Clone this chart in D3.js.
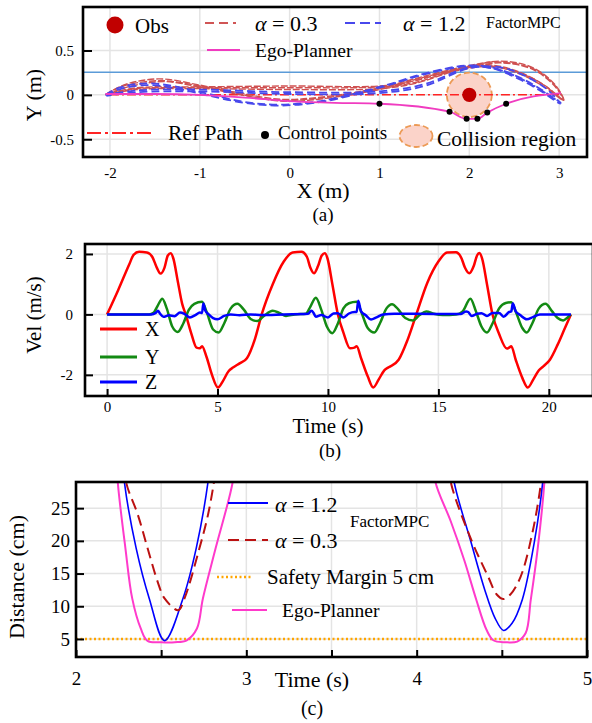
<!DOCTYPE html>
<html lang="en">
<head>
<meta charset="UTF-8">
<title>factormpc figure</title>
<script src="https://cdn.jsdelivr.net/npm/d3@7/dist/d3.min.js"></script>
<style>
  body { margin: 0; background: #fff; }
  svg { display: block; font-family: "Liberation Serif", "Times New Roman", serif; }
  .gridline { stroke: #e4e4e4; stroke-width: 1.5; }
  .axis path { display: none; }
  .axis line { stroke: #000; stroke-width: 2; }
  .axis text { font-family: "Liberation Serif", serif; fill: #000; }
  .frame { fill: none; stroke: #000; stroke-width: 2.6; }
  .lbl { fill: #000; }
</style>
</head>
<body>
<div id="viz"></div>
<script>
// ---------- (a) trajectories, metres ----------
var xTicksA = [-2, -1, 0, 1, 2, 3];
var yTicksA = [-0.5, 0, 0.5];
var obstacle = [2, 0];
var obsRadius = 0.08;
var collisionRadius = 0.25;
var blueRefY = 0.255;
var refPath = [[-2, 0], [3, 0]];
var ctrlPts = [[1, -0.1], [1.78, -0.19], [1.97, -0.27], [2.09, -0.27], [2.2, -0.2], [2.41, -0.1]];
var egoPath = [[-2.05, 0.01], [-1.5, 0.01], [-1.0, 0.0], [-0.5, -0.03], [0.0, -0.07], [0.5, -0.09], [1.0, -0.1],
  [1.78, -0.19], [1.97, -0.27], [2.09, -0.27], [2.2, -0.2], [2.41, -0.1], [3.02, 0.02]];
var redLaps = [
  [[-2.05, 0.0], [-1.85, 0.11], [-1.46, 0.18], [-1.0, 0.11], [-0.6, 0.02], [-0.1, -0.07], [0.4, -0.04], [1.0, 0.07],
   [1.5, 0.2], [2.0, 0.32], [2.35, 0.38], [2.7, 0.31], [2.95, 0.12], [3.05, -0.06], [2.85, 0.08], [2.55, 0.24],
   [2.2, 0.33], [1.85, 0.28], [1.4, 0.14], [1.0, 0.09], [0.0, 0.08], [-1.0, 0.08], [-1.7, 0.07], [-2.05, 0.0]],
  [[-2.04, 0.01], [-1.85, 0.1], [-1.45, 0.16], [-1.0, 0.1], [-0.6, 0.01], [-0.1, -0.06], [0.4, -0.03], [1.0, 0.06],
   [1.5, 0.19], [2.0, 0.31], [2.35, 0.36], [2.7, 0.29], [2.95, 0.1], [3.04, -0.05], [2.85, 0.1], [2.55, 0.26],
   [2.2, 0.34], [1.85, 0.29], [1.4, 0.16], [1.0, 0.1], [0.0, 0.1], [-1.0, 0.09], [-1.7, 0.08], [-2.04, 0.01]],
  [[-2.05, 0.0], [-1.8, 0.09], [-1.4, 0.15], [-1.0, 0.09], [-0.6, 0.03], [-0.1, -0.05], [0.4, -0.02], [1.0, 0.08],
   [1.5, 0.21], [2.0, 0.33], [2.3, 0.37], [2.7, 0.3], [2.95, 0.11], [3.05, -0.06], [2.8, 0.13], [2.5, 0.27],
   [2.2, 0.32], [1.85, 0.27], [1.4, 0.13], [1.0, 0.07], [0.0, 0.06], [-1.0, 0.07], [-1.7, 0.06], [-2.05, 0.0]]
];
var blueLaps = [
  [[-2.05, 0.0], [-1.9, 0.08], [-1.6, 0.13], [-1.3, 0.1], [-0.94, 0.02], [-0.5, -0.08], [-0.1, -0.11], [0.4, -0.06],
   [1.07, 0.11], [1.5, 0.24], [1.96, 0.33], [2.25, 0.31], [2.55, 0.2], [2.8, 0.06], [3.02, -0.09], [2.85, 0.02],
   [2.6, 0.17], [2.3, 0.29], [2.0, 0.31], [1.5, 0.12], [1.0, 0.04], [0.0, 0.03], [-1.0, 0.06], [-1.7, 0.05], [-2.05, 0.0]],
  [[-2.04, -0.01], [-1.9, 0.06], [-1.6, 0.11], [-1.3, 0.08], [-0.94, 0.0], [-0.5, -0.09], [-0.1, -0.12], [0.4, -0.07],
   [1.07, 0.1], [1.5, 0.23], [1.96, 0.32], [2.25, 0.3], [2.55, 0.18], [2.8, 0.04], [3.01, -0.1], [2.88, 0.05],
   [2.65, 0.2], [2.35, 0.31], [2.0, 0.3], [1.5, 0.1], [1.0, 0.02], [0.0, 0.01], [-1.0, 0.04], [-1.7, 0.03], [-2.04, -0.01]]
];

// ---------- (b) velocity, m/s ----------
var velTicksX = [0, 5, 10, 15, 20];
var velTicksY = [-2, 0, 2];
var velX = [[0, 0], [0.5, 0.8], [1.0, 1.65], [1.2, 1.97], [1.45, 2.07], [1.8, 2.05], [2.05, 1.9], [2.25, 1.55],
  [2.42, 1.35], [2.6, 1.55], [2.75, 1.95], [2.88, 2.02], [3.0, 1.85], [3.2, 1.1], [3.4, 0.35], [3.56, 0],
  [3.8, -0.6], [4.05, -1.1], [4.2, -1.12], [4.3, -1.05], [4.5, -1.4], [4.75, -2.0], [5.02, -2.42], [5.25, -2.2],
  [5.5, -1.88], [5.7, -1.76], [6.0, -1.62], [6.33, -1.45], [6.7, -0.8], [7.0, 0], [7.5, 1.0], [8.0, 1.75],
  [8.4, 2.05], [8.8, 2.07], [9.05, 1.9], [9.2, 1.55], [9.37, 1.36], [9.55, 1.6], [9.72, 1.95], [9.86, 2.02],
  [9.98, 1.85], [10.2, 1.0], [10.45, 0], [10.7, -0.6], [11.0, -1.12], [11.2, -1.1], [11.3, -1.05], [11.5, -1.45],
  [11.8, -2.05], [12.05, -2.42], [12.3, -2.15], [12.55, -1.85], [12.75, -1.75], [13.2, -1.5], [13.6, -0.85],
  [14.0, 0], [14.5, 1.05], [15.0, 1.75], [15.4, 2.05], [15.8, 2.06], [16.05, 1.85], [16.2, 1.55], [16.4, 1.36],
  [16.6, 1.6], [16.75, 1.95], [16.85, 2.03], [16.98, 1.85], [17.2, 1.0], [17.45, 0], [17.75, -0.65], [18.1, -1.13],
  [18.2, -1.1], [18.3, -1.05], [18.5, -1.5], [18.8, -2.1], [19.05, -2.42], [19.3, -2.15], [19.55, -1.85],
  [19.75, -1.72], [20.05, -1.5], [20.4, -1.0], [20.7, -0.5], [21.0, 0]];
var velY = [[0, 0], [1.9, 0], [2.1, 0.05], [2.3, 0.3], [2.5, 0.52], [2.7, 0.2], [2.95, -0.4], [3.2, -0.58],
  [3.45, -0.3], [3.7, 0.15], [3.95, 0.35], [4.3, 0.42], [4.5, 0.1], [4.8, -0.5], [5.05, -0.6], [5.3, -0.3],
  [5.6, 0.2], [5.9, 0.35], [6.2, 0.15], [6.5, -0.15], [6.8, -0.22], [7.1, -0.05], [7.5, 0.12], [7.8, 0.05],
  [8.1, -0.05], [8.5, 0], [9.0, 0.02], [9.2, 0.25], [9.45, 0.55], [9.7, 0.15], [9.95, -0.4], [10.2, -0.62],
  [10.45, -0.3], [10.7, 0.2], [10.95, 0.37], [11.3, 0.42], [11.5, 0.1], [11.8, -0.45], [12.1, -0.6], [12.35, -0.3],
  [12.65, 0.2], [12.9, 0.34], [13.2, 0.15], [13.5, -0.12], [13.85, -0.2], [14.15, -0.02], [14.45, 0.1],
  [14.8, 0.02], [15.2, -0.02], [15.8, 0], [16.1, 0.1], [16.45, 0.52], [16.7, 0.1], [16.95, -0.4], [17.2, -0.6],
  [17.45, -0.3], [17.75, 0.2], [18.05, 0.38], [18.3, 0.4], [18.5, 0.1], [18.8, -0.45], [19.0, -0.6],
  [19.25, -0.3], [19.55, 0.2], [19.85, 0.35], [20.15, 0.1], [20.4, -0.12], [20.65, -0.2], [20.85, -0.1], [21.0, 0]];
var velZ = [[0, 0], [2.0, 0], [2.2, 0.05], [2.3, 0.12], [2.4, 0.02], [2.55, -0.08], [2.8, -0.03], [3.05, -0.06],
  [3.3, 0.06], [3.5, 0.02], [3.75, -0.1], [4.0, -0.02], [4.2, 0.06], [4.3, 0.05], [4.36, 0.36], [4.45, 0.12],
  [4.6, 0.0], [4.8, -0.12], [5.0, -0.16], [5.3, -0.05], [5.6, 0.0], [6.0, -0.03], [6.5, 0], [7.0, -0.02], [8.0, 0],
  [9.1, 0.02], [9.25, 0.12], [9.35, 0.05], [9.45, -0.08], [9.7, -0.02], [10.0, -0.1], [10.25, 0.03], [10.45, 0.04],
  [10.7, -0.1], [10.95, 0.03], [11.2, 0.08], [11.3, 0.08], [11.37, 0.45], [11.5, 0.1], [11.7, -0.02],
  [11.95, -0.17], [12.2, -0.1], [12.5, 0.0], [13, 0.02], [14, 0.02], [16.0, 0.01], [16.25, 0.1], [16.35, 0.08],
  [16.5, -0.05], [16.75, 0.02], [16.95, 0.04], [17.2, -0.05], [17.45, 0.05], [17.75, 0.05], [17.95, -0.08],
  [18.2, 0.08], [18.3, 0.1], [18.37, 0.36], [18.5, 0.1], [18.7, -0.02], [19.0, -0.16], [19.3, -0.08], [19.6, 0.0],
  [21.0, 0.0]];

// ---------- (c) distance to obstacle, cm ----------
var distTicksX = [2, 2.5, 3, 3.5, 4, 4.5, 5];
var distLabelsX = [2, 3, 4, 5];
var distTicksY = [5, 10, 15, 20, 25];
var safetyMargin = 5;
var blueDist = [
  [[2.27, 34], [2.284, 29], [2.353, 18.9], [2.43, 11.2], [2.52, 4.75], [2.628, 11.2], [2.706, 18.9], [2.775, 29], [2.79, 33]],
  [[4.2, 34], [4.22, 29], [4.32, 19.7], [4.4, 12.5], [4.46, 8.2], [4.51, 6.3], [4.56, 7.4], [4.62, 11], [4.69, 19.7], [4.74, 29], [4.75, 33]]
];
var redDist = [
  [[2.28, 34], [2.294, 29], [2.363, 24], [2.42, 18.9], [2.48, 13.7], [2.52, 11.2], [2.6, 9.4], [2.637, 11.2], [2.725, 18.9], [2.775, 24], [2.81, 29], [2.83, 33]],
  [[4.18, 34], [4.2, 29], [4.32, 20.2], [4.42, 14.5], [4.47, 11.8], [4.51, 11.1], [4.55, 11.8], [4.61, 14.5], [4.68, 21.3], [4.73, 29], [4.74, 33]]
];
var pinkDist = [
  [[2.235, 34], [2.245, 29], [2.29, 18.9], [2.33, 11.2], [2.38, 6.6], [2.42, 4.7], [2.5, 4.5], [2.58, 4.5], [2.65, 4.8], [2.71, 6.6], [2.745, 11.2], [2.82, 18.9], [2.92, 29], [2.94, 34]],
  [[4.09, 34], [4.11, 29], [4.2, 23], [4.28, 17], [4.35, 11], [4.41, 6.4], [4.45, 4.8], [4.52, 4.5], [4.59, 4.6], [4.64, 5.9], [4.67, 11], [4.71, 18.7], [4.75, 29], [4.76, 34]]
];

var svg = d3.select('#viz').append('svg')
  .attr('width', 592)
  .attr('height', 723);

function grid(g, x, y, xs, ys) {
  g.selectAll(null).data(xs).enter().append('line')
    .attr('class', 'gridline')
    .attr('x1', d => x(d)).attr('x2', d => x(d))
    .attr('y1', y.range()[0]).attr('y2', y.range()[1]);
  g.selectAll(null).data(ys).enter().append('line')
    .attr('class', 'gridline')
    .attr('y1', d => y(d)).attr('y2', d => y(d))
    .attr('x1', x.range()[0]).attr('x2', x.range()[1]);
}

function frame(g, x, y) {
  g.append('rect').attr('class', 'frame')
    .attr('x', x.range()[0]).attr('y', y.range()[1])
    .attr('width', x.range()[1] - x.range()[0])
    .attr('height', y.range()[0] - y.range()[1]);
}

function alphaText(g, x, y, val, size) {
  var t = g.append('text').attr('class', 'lbl').attr('x', x).attr('y', y).style('font-size', size + 'px');
  t.append('tspan').style('font-style', 'italic').text('α');
  t.append('tspan').text(' = ' + val);
}

function text(g, x, y, s, size, anchor) {
  return g.append('text').attr('class', 'lbl').attr('x', x).attr('y', y)
    .attr('text-anchor', anchor || 'start').style('font-size', size + 'px').text(s);
}

// ================= (a) =================
var xa = d3.scaleLinear().domain([-2.3, 3.31]).range([83, 587]);
var ya = d3.scaleLinear().domain([-0.7, 0.99]).range([157, 7]);
var ga = svg.append('g');
ga.append('clipPath').attr('id', 'clipA').append('rect')
  .attr('x', 83).attr('y', 7).attr('width', 504).attr('height', 150);
grid(ga, xa, ya, xTicksA, yTicksA);

var pa = ga.append('g').attr('clip-path', 'url(#clipA)');
pa.append('line')
  .attr('x1', xa.range()[0]).attr('x2', xa.range()[1])
  .attr('y1', ya(blueRefY)).attr('y2', ya(blueRefY))
  .style('stroke', '#5b9bd8').style('stroke-width', 1.3);

pa.append('ellipse')
  .attr('cx', xa(obstacle[0])).attr('cy', ya(obstacle[1]))
  .attr('rx', xa(collisionRadius) - xa(0)).attr('ry', ya(0) - ya(collisionRadius))
  .style('fill', '#fbd3c9').style('stroke', '#ec9a55').style('stroke-width', 1.8)
  .style('stroke-dasharray', '6,3');

var lineA = d3.line().x(d => xa(d[0])).y(d => ya(d[1]));
var smoothA = d3.line().x(d => xa(d[0])).y(d => ya(d[1])).curve(d3.curveCatmullRom.alpha(0.5));

pa.append('path').datum(refPath).attr('d', lineA)
  .style('fill', 'none').style('stroke', '#ff2424').style('stroke-width', 1.5)
  .style('stroke-dasharray', '9,3,2,3');

pa.selectAll('.red').data(redLaps).enter().append('path').attr('class', 'red')
  .attr('d', smoothA)
  .style('fill', 'none').style('stroke', '#cf5050').style('stroke-width', 1.4)
  .style('stroke-dasharray', '7,2');

pa.selectAll('.blue').data(blueLaps).enter().append('path').attr('class', 'blue')
  .attr('d', smoothA)
  .style('fill', 'none').style('stroke', '#4848ec').style('stroke-width', 1.8)
  .style('stroke-dasharray', '8,4');

pa.append('path').datum(egoPath)
  .attr('d', d3.line().x(d => xa(d[0])).y(d => ya(d[1])).curve(d3.curveMonotoneX))
  .style('fill', 'none').style('stroke', '#f03cc0').style('stroke-width', 1.8);

pa.append('circle')
  .attr('cx', xa(obstacle[0])).attr('cy', ya(obstacle[1]))
  .attr('r', ya(0) - ya(obsRadius))
  .style('fill', '#c00000');

pa.selectAll('.cp').data(ctrlPts).enter().append('circle')
  .attr('cx', d => xa(d[0])).attr('cy', d => ya(d[1])).attr('r', 3)
  .style('fill', '#000');

// axes (a)
ga.append('g').attr('class', 'axis')
  .attr('transform', 'translate(0,' + ya.range()[0] + ')')
  .call(d3.axisBottom(xa).tickValues(xTicksA).tickSize(0).tickPadding(10).tickFormat(d => String(d)))
  .selectAll('text').style('font-size', '15px');
ga.append('g').attr('class', 'axis')
  .attr('transform', 'translate(' + xa.range()[0] + ',0)')
  .call(d3.axisLeft(ya).tickValues(yTicksA).tickSizeInner(-9).tickPadding(9).tickFormat(d => String(d)))
  .selectAll('text').style('font-size', '15px');
frame(ga, xa, ya);

// legend (a)
ga.append('circle').attr('cx', 115).attr('cy', 25).attr('r', 8.5).style('fill', '#c00000');
text(ga, 135, 33, 'Obs', 21);
ga.append('line').attr('x1', 205).attr('x2', 236).attr('y1', 23).attr('y2', 23)
  .style('stroke', '#d05555').style('stroke-width', 2).style('stroke-dasharray', '9,5');
alphaText(ga, 255, 31, '0.3', 22);
ga.append('line').attr('x1', 345).attr('x2', 381).attr('y1', 23).attr('y2', 23)
  .style('stroke', '#4848ec').style('stroke-width', 2).style('stroke-dasharray', '10,5');
alphaText(ga, 403, 31, '1.2', 22);
text(ga, 486, 28, 'FactorMPC', 16);
ga.append('line').attr('x1', 207).attr('x2', 240).attr('y1', 50).attr('y2', 50)
  .style('stroke', '#f03cc0').style('stroke-width', 2);
text(ga, 255, 57, 'Ego-Planner', 19.5);
ga.append('line').attr('x1', 87).attr('x2', 153).attr('y1', 133).attr('y2', 133)
  .style('stroke', '#ff2424').style('stroke-width', 2).style('stroke-dasharray', '14,4,3,4');
text(ga, 168, 140, 'Ref Path', 21.5);
ga.append('circle').attr('cx', 265).attr('cy', 135).attr('r', 4).style('fill', '#000');
text(ga, 278, 139, 'Control points', 19);
ga.append('ellipse').attr('cx', 416).attr('cy', 136).attr('rx', 16.5).attr('ry', 11)
  .style('fill', '#fbd3c9').style('stroke', '#ec9a55').style('stroke-width', 1.8).style('stroke-dasharray', '6,3');
text(ga, 437, 146, 'Collision region', 21.5);

text(ga, 323, 198, 'X (m)', 22, 'middle');
text(ga, 0, 0, 'Y (m)', 22, 'middle').attr('transform', 'translate(41,95) rotate(-90)');
text(ga, 323, 221, '(a)', 19, 'middle');

// ================= (b) =================
var xb = d3.scaleLinear().domain([-1, 22]).range([85, 593]);
var yb = d3.scaleLinear().domain([-2.7, 2.33]).range([396, 244]);
var gb = svg.append('g');
gb.append('clipPath').attr('id', 'clipB').append('rect')
  .attr('x', 85).attr('y', 244).attr('width', 508).attr('height', 152);
grid(gb, xb, yb, velTicksX, velTicksY);

var lineB = d3.line().x(d => xb(d[0])).y(d => yb(d[1])).curve(d3.curveMonotoneX);
var pb = gb.append('g').attr('clip-path', 'url(#clipB)');
[[velX, '#ff0000'], [velY, '#138a13'], [velZ, '#0000ff']].forEach(function (s) {
  pb.append('path').datum(s[0]).attr('d', lineB)
    .style('fill', 'none').style('stroke', s[1]).style('stroke-width', 2.5)
    .style('stroke-linejoin', 'round');
});

gb.append('g').attr('class', 'axis')
  .attr('transform', 'translate(0,' + yb.range()[0] + ')')
  .call(d3.axisBottom(xb).tickValues(velTicksX).tickSizeInner(-7).tickPadding(5).tickFormat(d => String(d)))
  .selectAll('text').style('font-size', '15px');
gb.append('g').attr('class', 'axis')
  .attr('transform', 'translate(' + xb.range()[0] + ',0)')
  .call(d3.axisLeft(yb).tickValues(velTicksY).tickSizeInner(-8).tickPadding(12).tickFormat(d => String(d)))
  .selectAll('text').style('font-size', '15px');
frame(gb, xb, yb);

[['X', '#ff0000', 329], ['Y', '#138a13', 357], ['Z', '#0000ff', 382]].forEach(function (s) {
  gb.append('line').attr('x1', 100).attr('x2', 137).attr('y1', s[2]).attr('y2', s[2])
    .style('stroke', s[1]).style('stroke-width', 2.8);
  text(gb, 145, s[2] + 7, s[0], 20);
});

text(gb, 328, 433, 'Time (s)', 21, 'middle');
text(gb, 0, 0, 'Vel (m/s)', 21, 'middle').attr('transform', 'translate(41,315) rotate(-90)');
text(gb, 330, 457, '(b)', 19, 'middle');

// ================= (c) =================
var xc = d3.scaleLinear().domain([2, 5]).range([76, 587]);
var yc = d3.scaleLinear().domain([2.24, 29]).range([657, 482]);
var gc = svg.append('g');
gc.append('clipPath').attr('id', 'clipC').append('rect')
  .attr('x', 76).attr('y', 482).attr('width', 511).attr('height', 175);
grid(gc, xc, yc, distTicksX.slice(1, -1), distTicksY);

var pc = gc.append('g').attr('clip-path', 'url(#clipC)');
var lineC = d3.line().x(d => xc(d[0])).y(d => yc(d[1])).curve(d3.curveCatmullRom.alpha(0.5));

pc.append('line')
  .attr('x1', xc.range()[0]).attr('x2', xc.range()[1])
  .attr('y1', yc(safetyMargin)).attr('y2', yc(safetyMargin))
  .style('stroke', '#ffa500').style('stroke-width', 2.5).style('stroke-dasharray', '2,2.5');

pc.selectAll('.pink').data(pinkDist).enter().append('path').attr('class', 'pink')
  .attr('d', lineC).style('fill', 'none').style('stroke', '#ff3acb').style('stroke-width', 2);
pc.selectAll('.blue').data(blueDist).enter().append('path').attr('class', 'blue')
  .attr('d', lineC).style('fill', 'none').style('stroke', '#0000ff').style('stroke-width', 1.6);
pc.selectAll('.red').data(redDist).enter().append('path').attr('class', 'red')
  .attr('d', lineC).style('fill', 'none').style('stroke', '#bb1111').style('stroke-width', 2)
  .style('stroke-dasharray', '11,6');

gc.append('g').attr('class', 'axis')
  .attr('transform', 'translate(0,' + yc.range()[0] + ')')
  .call(d3.axisBottom(xc).tickValues(distTicksX).tickSizeInner(-7).tickPadding(15)
    .tickFormat(d => distLabelsX.indexOf(d) >= 0 ? String(d) : ''))
  .selectAll('text').style('font-size', '19px');
gc.append('g').attr('class', 'axis')
  .attr('transform', 'translate(' + xc.range()[0] + ',0)')
  .call(d3.axisLeft(yc).tickValues(distTicksY).tickSizeInner(-8).tickPadding(6).tickFormat(d => String(d)))
  .selectAll('text').style('font-size', '19px');
frame(gc, xc, yc);

gc.append('line').attr('x1', 228).attr('x2', 268).attr('y1', 503).attr('y2', 503)
  .style('stroke', '#0000ff').style('stroke-width', 2);
alphaText(gc, 275, 512, '1.2', 22);
text(gc, 350, 527, 'FactorMPC', 17);
gc.append('line').attr('x1', 228).attr('x2', 268).attr('y1', 540).attr('y2', 540)
  .style('stroke', '#bb1111').style('stroke-width', 2).style('stroke-dasharray', '11,6');
alphaText(gc, 275, 548, '0.3', 22);
gc.append('line').attr('x1', 217).attr('x2', 253).attr('y1', 577).attr('y2', 577)
  .style('stroke', '#ffa500').style('stroke-width', 2.5).style('stroke-dasharray', '2,2.5');
text(gc, 267, 584, 'Safety Margin 5 cm', 21);
gc.append('line').attr('x1', 232).attr('x2', 267).attr('y1', 610).attr('y2', 610)
  .style('stroke', '#ff3acb').style('stroke-width', 2);
text(gc, 282, 617, 'Ego-Planner', 19.5);

text(gc, 312, 687, 'Time (s)', 22, 'middle');
text(gc, 0, 0, 'Distance (cm)', 22, 'middle').attr('transform', 'translate(24,577) rotate(-90)');
text(gc, 312, 715, '(c)', 20, 'middle');
</script>
</body>
</html>
